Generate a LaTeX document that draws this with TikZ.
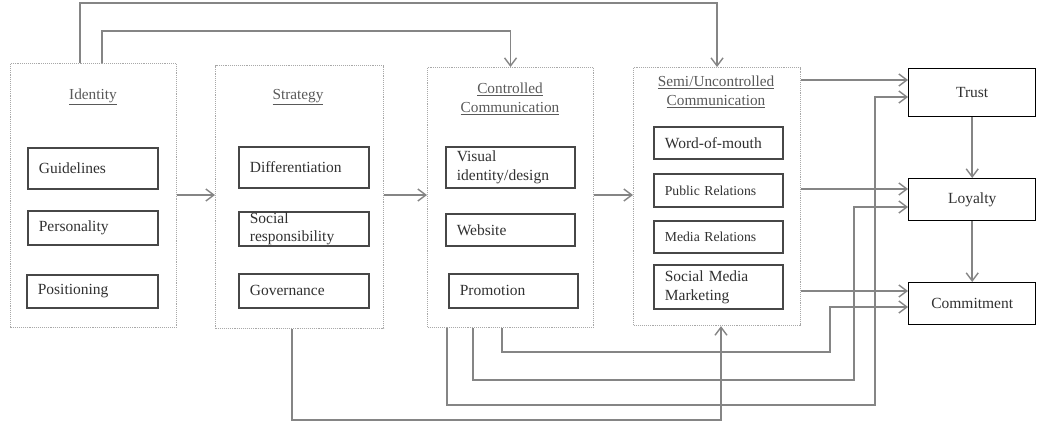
\documentclass[tikz,border=0pt]{standalone}
\usepackage{fontspec}
\setmainfont{Liberation Serif}
\usetikzlibrary{arrows.meta}
\definecolor{txt}{HTML}{303030}
\definecolor{conncol}{HTML}{858585}
\definecolor{outcol}{HTML}{A8A8A8}
\begin{document}
\begin{tikzpicture}[x=1pt,y=-1pt,
  outer/.style={draw=outcol, densely dotted, line width=1.1pt, anchor=north west, inner sep=0pt},
  inbox/.style={draw=black!72, line width=1.7pt, anchor=north west, inner xsep=11pt, inner ysep=0pt,
    align=left, font=\fontsize{15.5}{19}\selectfont, text=txt},
  smalltext/.style={font=\fontsize{13.7}{17}\selectfont},
  endbox/.style={draw=black, line width=1.4pt, anchor=north west, inner sep=0pt,
    font=\fontsize{15.5}{19}\selectfont, text=txt},
  title/.style={align=center, font=\fontsize{15.3}{19}\selectfont, text=black!65, inner sep=0pt},
  arr/.style={draw=conncol, line width=1.5pt, -{Straight Barb[length=8pt,width=12pt,line width=1.4pt]}},
  ln/.style={draw=conncol, line width=1.5pt}]
\useasboundingbox (0,0) rectangle (1041,424);
% outer groups
\node[outer, minimum width=166pt, minimum height=264pt] (identity) at (10,63) {};
\node[outer, minimum width=168pt, minimum height=263pt] (strategy) at (215,65) {};
\node[outer, minimum width=166pt, minimum height=260pt] (controlled) at (427,67) {};
\node[outer, minimum width=167pt, minimum height=258pt] (semi) at (633,67) {};
% titles
\node[title] (tid) at (93,97) {\underline{Identity}};
\node[title] (tst) at (298,97) {\underline{Strategy}};
\node[title] (tcc) at (510,98.5) {\underline{Controlled}\\\underline{Communication}};
\node[title] (tsc) at (716,92) {\underline{Semi/Uncontrolled}\\\underline{Communication}};
% identity items
\node[inbox, minimum width=130pt, text width=108pt, minimum height=41pt] (guide) at (27,147) {Guidelines};
\node[inbox, minimum width=130pt, text width=108pt, minimum height=34pt] (pers) at (27,210) {Personality};
\node[inbox, minimum width=131pt, text width=109pt, minimum height=33pt] (posi) at (26,274) {Positioning};
% strategy items
\node[inbox, minimum width=130pt, text width=108pt, minimum height=41pt] (diff) at (238,146) {Differentiation};
\node[inbox, minimum width=130pt, text width=108pt, minimum height=34pt] (socr) at (238,211) {Social\\[-1pt]responsibility};
\node[inbox, minimum width=130pt, text width=108pt, minimum height=34pt] (gov) at (238,273) {Governance};
% controlled items
\node[inbox, minimum width=129pt, text width=107pt, minimum height=41pt] (vis) at (445,146) {Visual\\identity/design};
\node[inbox, minimum width=129pt, text width=107pt, minimum height=32pt] (web) at (445,213) {Website};
\node[inbox, minimum width=129pt, text width=107pt, minimum height=34pt] (promo) at (448,273) {Promotion};
% semi items
\node[inbox, minimum width=129pt, text width=107pt, minimum height=32pt] (wom) at (653,126) {Word-of-mouth};
\node[inbox, smalltext, minimum width=129pt, text width=107pt, minimum height=33pt] (pr) at (653,173) {Public Relations};
\node[inbox, smalltext, minimum width=129pt, text width=107pt, minimum height=32pt] (mr) at (653,220) {Media Relations};
\node[inbox, minimum width=129pt, text width=107pt, minimum height=44pt] (smm) at (653,264) {Social Media\\Marketing};
% outcome boxes
\node[endbox, minimum width=127pt, minimum height=48pt] (trust) at (908,68) {Trust};
\node[endbox, minimum width=127pt, minimum height=42pt] (loyal) at (908,178) {Loyalty};
\node[endbox, minimum width=127pt, minimum height=42pt] (commit) at (908,282) {Commitment};
% main flow
\draw[arr] (identity.east |- 0,195) -- (strategy.west |- 0,195);
\draw[arr] (strategy.east |- 0,195) -- (controlled.west |- 0,195);
\draw[arr] (controlled.east |- 0,195) -- (semi.west |- 0,195);
\draw[arr] (semi.east |- 0,80) -- (trust.west |- 0,80);
\draw[arr] (semi.east |- 0,189) -- (loyal.west |- 0,189);
\draw[arr] (semi.east |- 0,291) -- (commit.west |- 0,291);
\draw[arr] (trust.south) -- (loyal.north);
\draw[arr] (loyal.south) -- (commit.north);
% top connectors
\draw[arr] (identity.north -| 80,0) |- (semi.north |- 0,3) -- (semi.north);
\draw[arr] (identity.north -| 102,0) |- (controlled.north |- 0,31) -- (controlled.north);
% bottom connectors
\draw[arr] (strategy.south -| 292,0) -- (292,420) -| (semi.south -| 721,0);
\draw[arr] (controlled.south -| 447,0) -- (447,405) -| (875,97) -- (trust.west |- 0,97);
\draw[arr] (controlled.south -| 473,0) -- (473,380) -| (854,207) -- (loyal.west |- 0,207);
\draw[arr] (controlled.south -| 502,0) -- (502,352) -| (830,307) -- (commit.west |- 0,307);
\end{tikzpicture}
\end{document}
